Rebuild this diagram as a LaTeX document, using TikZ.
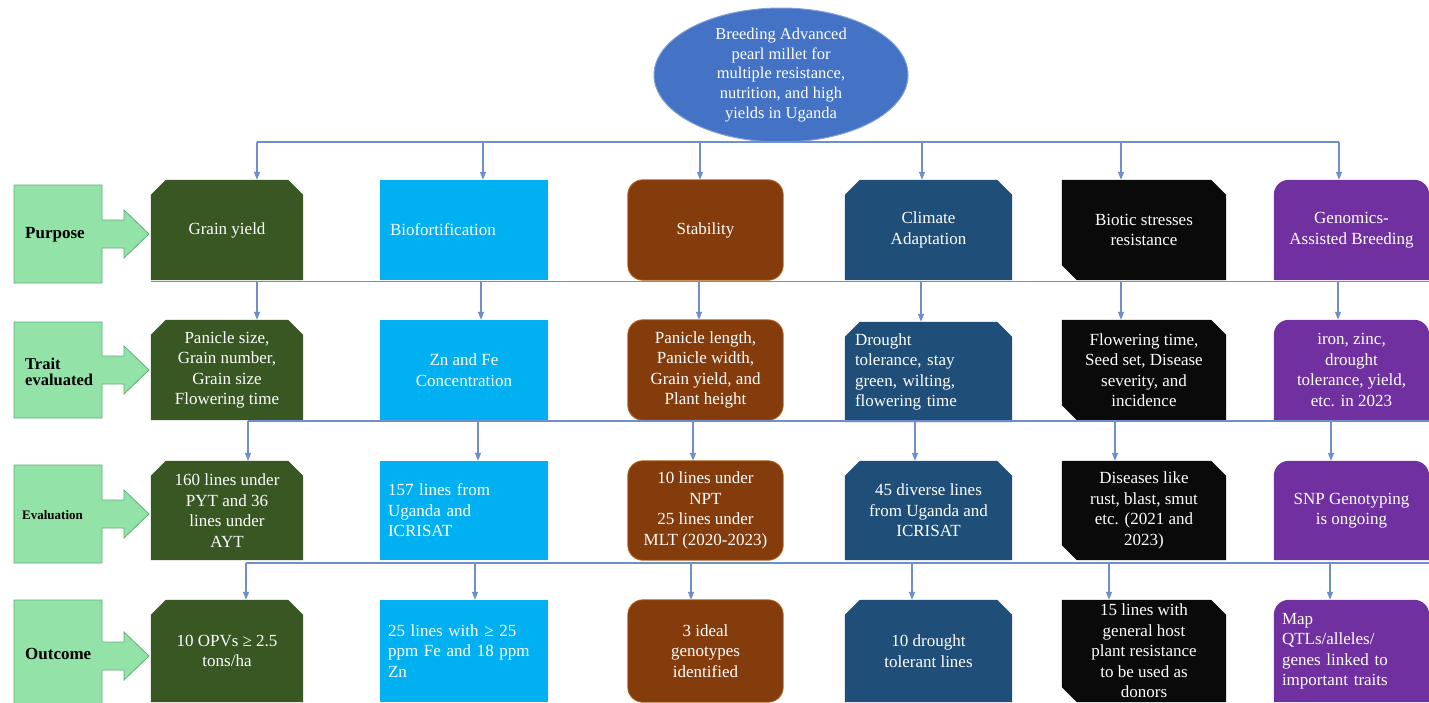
\documentclass[tikz,border=0pt]{standalone}
\usepackage{fontspec}
\setmainfont{Liberation Serif}
\usetikzlibrary{shapes.geometric,arrows.meta}
\pgfdeclarelayer{bg}
\pgfsetlayers{bg,main}
\definecolor{cgreen}{HTML}{385723}
\definecolor{clblue}{HTML}{00B0F0}
\definecolor{cbrown}{HTML}{843C0C}
\definecolor{cbrownedge}{HTML}{B8651E}
\definecolor{cdblue}{HTML}{1F4E79}
\definecolor{cblack}{HTML}{0A0A0A}
\definecolor{cpurple}{HTML}{7030A0}
\definecolor{cgoal}{HTML}{4472C4}
\definecolor{cgoaledge}{HTML}{7F9FDB}
\definecolor{cbus}{HTML}{6F8FC8}
\definecolor{cside}{HTML}{93E3A9}
\definecolor{csideedge}{HTML}{5FAE77}
\newcommand{\snipTop}[2]{\fill[#2] ([yshift=-15pt]#1.north west) -- ([xshift=15pt]#1.north west) -- ([xshift=-15pt]#1.north east) -- ([yshift=-15pt]#1.north east) -- (#1.south east) -- (#1.south west) -- cycle;}
\newcommand{\snipDiag}[2]{\fill[#2] (#1.north west) -- ([xshift=-15pt]#1.north east) -- ([yshift=-15pt]#1.north east) -- (#1.south east) -- ([xshift=15pt]#1.south west) -- ([yshift=15pt]#1.south west) -- cycle;}
\newcommand{\roundTop}[2]{\fill[#2] (#1.south west) [rounded corners=15pt] -- (#1.north west) -- (#1.north east) [sharp corners] -- (#1.south east) -- cycle;}
\newcommand{\roundAll}[2]{\filldraw[#2, rounded corners=15pt] (#1.south west) rectangle (#1.north east);}
\newcommand{\plainBox}[2]{\fill[#2] (#1.south west) rectangle (#1.north east);}
\newcommand{\sideArrow}[2]{\filldraw[sidearrow] (14,#1) -- (102,#1) -- (102,{(#1+#2)/2-14}) -- (124,{(#1+#2)/2-14}) -- (124,{(#1+#2)/2-24}) -- (149,{(#1+#2)/2}) -- (124,{(#1+#2)/2+24}) -- (124,{(#1+#2)/2+14}) -- (102,{(#1+#2)/2+14}) -- (102,#2) -- (14,#2) -- cycle;}
\tikzset{
  cell/.style={inner xsep=6pt, inner ysep=0pt, text=white, align=center,
    font=\fontsize{17}{20.5}\selectfont},
  leftcell/.style={cell, align=left, inner xsep=8pt, text width=#1},
  wA/.style={minimum width=152pt},
  wB/.style={minimum width=168pt},
  wC/.style={minimum width=155pt},
  wD/.style={minimum width=167pt},
  wE/.style={minimum width=164pt},
  wF/.style={minimum width=155pt},
  rowA/.style={minimum height=100pt},
  rowB/.style={minimum height=100pt},
  rowC/.style={minimum height=99pt},
  rowD/.style={minimum height=102pt},
  lab/.style={anchor=west, inner sep=0pt, text=black, align=left,
    font=\fontsize{17}{17}\selectfont\bfseries},
  sidearrow/.style={fill=cside, draw=csideedge, line width=0.8pt},
  bus/.style={draw=cbus, line width=1.3pt},
  arr/.style={bus, -{Triangle[length=8pt,width=6pt]}},
}
\begin{document}
\begin{tikzpicture}[x=1pt,y=-1pt]
\useasboundingbox (0,0) rectangle (1429,702);
\begin{pgfonlayer}{bg}
\fill[white] (0,0) rectangle (1429,702);
\end{pgfonlayer}

% goal
\node[ellipse, fill=cgoal, draw=cgoaledge, line width=1pt, minimum width=254pt, minimum height=134pt,
  inner sep=0pt, text=white, align=center, font=\fontsize{16.5}{19.8}\selectfont] (goal) at (781,75)
  {Breeding Advanced\\pearl millet for\\multiple resistance,\\nutrition, and high\\yields in Uganda};

% side arrows
\sideArrow{185}{283}
\sideArrow{322}{418}
\sideArrow{465}{563}
\sideArrow{600}{712}
\node[lab] (lp) at (25,235) {Purpose};
\node[lab, font=\fontsize{16.5}{16.5}\selectfont\bfseries] (lt) at (25,372) {Trait\\evaluated};
\node[lab, font=\fontsize{13}{13}\selectfont\bfseries] (le) at (22,515) {Evaluation};
\node[lab] (lo) at (25,654) {Outcome};

% row 1: purpose
\node[cell, wA, rowA] (p1) at (227,230) {Grain yield};
\node[leftcell=148pt, inner xsep=10pt, wB, rowA] (p2) at (464,230) {Biofortification};
\node[cell, wC, rowA] (p3) at (705.5,230) {Stability};
\node[cell, wD, rowA] (p4) at (928.5,230) {Climate\\Adaptation};
\node[cell, wE, rowA] (p5) at (1144,230) {Biotic stresses\\resistance};
\node[cell, wF, rowA] (p6) at (1351.5,230) {Genomics-\\Assisted Breeding};

% row 2: traits
\node[cell, wA, rowB] (t1) at (227,370) {Panicle size,\\Grain number,\\Grain size\\Flowering time};
\node[cell, wB, rowB] (t2) at (464,370) {Zn and Fe\\Concentration};
\node[cell, wC, rowB] (t3) at (705.5,370) {Panicle length,\\Panicle width,\\Grain yield, and\\Plant height};
\node[leftcell=147pt, inner xsep=10pt, wD, rowB] (t4) at (928.5,372) {Drought\\tolerance, stay\\green, wilting,\\flowering time};
\node[cell, wE, rowB] (t5) at (1144,370) {Flowering time,\\Seed set, Disease\\severity, and\\incidence};
\node[cell, wF, rowB] (t6) at (1351.5,370) {iron, zinc,\\drought\\tolerance, yield,\\etc. in 2023};

% row 3: evaluation
\node[cell, wA, rowC] (e1) at (227,510.5) {160 lines under\\PYT and 36\\lines under\\AYT};
\node[leftcell=152pt, wB, rowC] (e2) at (464,510.5) {157 lines from\\Uganda and\\ICRISAT\\[10pt]};
\node[cell, wC, rowC] (e3) at (705.5,510.5) {10 lines under\\NPT\\25 lines under\\MLT (2020-2023)};
\node[cell, wD, rowC] (e4) at (928.5,510.5) {45 diverse lines\\from Uganda and\\ICRISAT};
\node[cell, wE, rowC] (e5) at (1144,510.5) {Diseases like\\rust, blast, smut\\etc. (2021 and\\2023)};
\node[cell, wF, rowC] (e6) at (1351.5,510.5) {SNP Genotyping\\is ongoing};

% row 4: outcome
\node[cell, wA, rowD] (o1) at (227,651) {10 OPVs ≥ 2.5\\tons/ha};
\node[leftcell=152pt, wB, rowD] (o2) at (464,651) {25 lines with ≥ 25\\ppm Fe and 18 ppm\\Zn};
\node[cell, wC, rowD] (o3) at (705.5,651) {3 ideal\\genotypes\\identified};
\node[cell, wD, rowD] (o4) at (928.5,651) {10 drought\\tolerant lines};
\node[cell, wE, rowD] (o5) at (1144,651) {15 lines with\\general host\\plant resistance\\to be used as\\donors};
\node[leftcell=139pt, wF, rowD] (o6) at (1351.5,651) {Map\\QTLs/alleles/\\genes linked to\\important traits};

\begin{pgfonlayer}{bg}
\foreach \n in {p1,t1,e1,o1} {\snipTop{\n}{cgreen}}
\foreach \n in {p2,t2,e2,o2} {\plainBox{\n}{clblue}}
\foreach \n in {p3,t3,e3,o3} {\roundAll{\n}{fill=cbrown, draw=cbrownedge, line width=0.8pt}}
\foreach \n in {p4,t4,e4,o4} {\snipTop{\n}{cdblue}}
\foreach \n in {p5,t5,e5,o5} {\snipDiag{\n}{cblack}}
\foreach \n in {p6,t6,e6,o6} {\roundTop{\n}{cpurple}}
\end{pgfonlayer}

% bus 1
\coordinate (a11) at (257,142);
\coordinate (a12) at (483,142);
\coordinate (a13) at (700,142);
\coordinate (a14) at (922,142);
\coordinate (a15) at (1121,142);
\coordinate (a16) at (1339,142);
\draw[bus] (a11) -- (a16);
\foreach \i in {1,...,6} {\draw[arr] (a1\i) -- (a1\i |- p\i.north);}

% bus 2
\coordinate (a21) at (257,281);
\coordinate (a22) at (481,281);
\coordinate (a23) at (699,281);
\coordinate (a24) at (921,281);
\coordinate (a25) at (1121,281);
\coordinate (a26) at (1338,281);
\draw[bus] ([yshift=-1pt]p1.south west) -- ([yshift=-1pt]p6.south east);
\foreach \i in {1,...,6} {\draw[arr] (a2\i) -- (a2\i |- t\i.north);}

% bus 3
\coordinate (a31) at (248,421);
\coordinate (a32) at (478,421);
\coordinate (a33) at (693,421);
\coordinate (a34) at (915,421);
\coordinate (a35) at (1115,421);
\coordinate (a36) at (1331,421);
\draw[bus] (a31) -- (a31 -| t6.east);
\foreach \i in {1,...,6} {\draw[arr] (a3\i) -- (a3\i |- e\i.north);}

% bus 4
\coordinate (a41) at (246,563);
\coordinate (a42) at (475,563);
\coordinate (a43) at (691,563);
\coordinate (a44) at (912,563);
\coordinate (a45) at (1109,563);
\coordinate (a46) at (1330,563);
\draw[bus] (a41) -- (a41 -| e6.east);
\foreach \i in {1,...,6} {\draw[arr] (a4\i) -- (a4\i |- o\i.north);}
\end{tikzpicture}
\end{document}
